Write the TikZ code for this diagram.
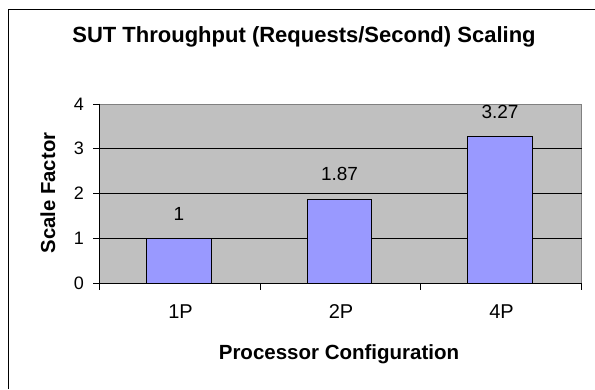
\documentclass[tikz,border=0pt]{standalone}
\usepackage{fontspec}
\setmainfont{Liberation Sans}
\definecolor{plotbg}{HTML}{C0C0C0}
\definecolor{plotedge}{HTML}{808080}
\definecolor{barfill}{HTML}{9999FF}
\tikzset{
  fs/.style={font=\fontsize{#1}{#1}\selectfont},
  fsb/.style={font=\fontsize{#1}{#1}\selectfont\bfseries},
  lbl/.style={inner sep=0pt, outer sep=0pt},
  barbox/.style={fill=barfill, draw=black, line width=1pt},
  gridln/.style={draw=black, line width=0.8pt},
  axisln/.style={draw=black, line width=0.9pt},
}
\begin{document}
\begin{tikzpicture}[x=1pt,y=-1pt]
\useasboundingbox (0,0) rectangle (595,389);
% chart frame (continues beyond right and bottom)
\draw[line width=1.2pt] (8.7,389) -- (8.7,9.5) -- (595,9.5);
% title
\node[lbl, fsb=22, anchor=base] (title) at (304,42.7) {SUT Throughput (Requests/Second) Scaling};
% plot area
\draw[fill=plotbg, draw=plotedge, line width=1pt] (99,104) rectangle (581.7,283.3);
\foreach \yy in {238.3,193.3,148.3} \draw[gridln] (99,\yy) -- (581.7,\yy);
% bars
\draw[barbox] (146,283.3) rectangle (211.5,238.3);
\draw[barbox] (307.3,283.3) rectangle (371,199.15);
\draw[barbox] (467,283.3) rectangle (532.5,136.15);
% axes
\draw[axisln] (99,103.5) -- (99,283.3) -- (581.7,283.3);
\foreach \yy in {104,148.3,193.3,238.3,283.3} \draw[axisln] (93,\yy) -- (99,\yy);
\foreach \xx in {99,260,420.5,581.7} \draw[axisln] (\xx,283.3) -- (\xx,289.5);
% y tick labels
\node[lbl, fs=18, anchor=east] (y0) at (84,283.3) {0};
\node[lbl, fs=18, anchor=east] (y1) at (84,238.3) {1};
\node[lbl, fs=18, anchor=east] (y2) at (84,193.3) {2};
\node[lbl, fs=18, anchor=east] (y3) at (84,148.3) {3};
\node[lbl, fs=18, anchor=east] (y4) at (84,104) {4};
% data labels
\node[lbl, fs=19] (d1) at (179,214) {1};
\node[lbl, fs=19] (d2) at (339.5,173.5) {1.87};
\node[lbl, fs=19] (d3) at (500,111.7) {3.27};
% category labels
\node[lbl, fs=20] (c1) at (180.5,312) {1P};
\node[lbl, fs=20] (c2) at (341,312) {2P};
\node[lbl, fs=20] (c3) at (501.5,312) {4P};
% axis titles
\node[lbl, fsb=20.5, anchor=base] (xt) at (339,359.3) {Processor Configuration};
\node[lbl, fsb=20.3, anchor=base, rotate=90] (yt) at (55,193) {Scale Factor};
\end{tikzpicture}
\end{document}
